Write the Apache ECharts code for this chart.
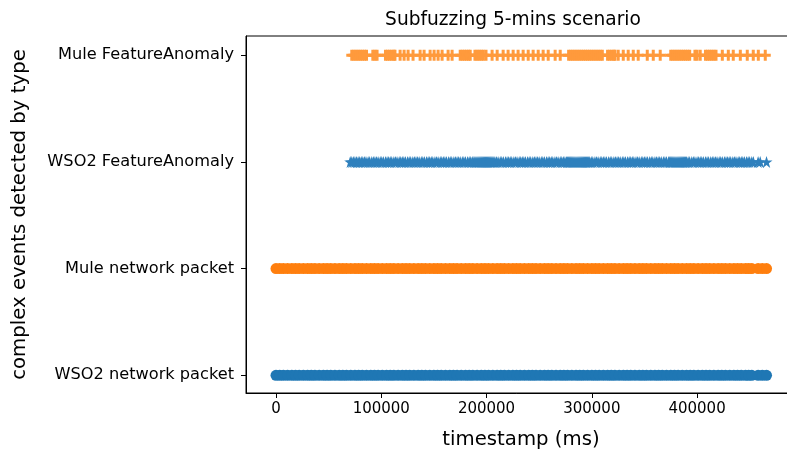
<!DOCTYPE html>
<html><head><meta charset="utf-8">
<script src="https://cdn.jsdelivr.net/npm/echarts@6/dist/echarts.min.js"></script>
<style>html,body{margin:0;padding:0;background:#fff}#c{width:787px;height:451px}</style>
</head><body><div id="c"></div>
<script>
const categories = ['WSO2 network packet', 'Mule network packet', 'WSO2 FeatureAnomaly', 'Mule FeatureAnomaly'];
const xTicks = [0, 100000, 200000, 300000, 400000];
const yTicks = [0, 1, 2, 3];

const wso2NetworkTimes = [0, 3500, 7000, 11000, 15000, 18500, 22000, 26000, 30000, 33500, 37000, 41000, 45000, 48500, 52000, 56000, 60000, 63500, 67000, 71000, 75000, 78500, 82000, 86000, 90000, 93500, 97000, 101000, 105000, 108500, 112000, 116000, 120000, 123500, 127000, 131000, 135000, 138500, 142000, 146000, 150000, 153500, 157000, 161000, 165000, 168500, 172000, 176000, 180000, 183500, 187000, 191000, 195000, 198500, 202000, 206000, 210000, 213500, 217000, 221000, 225000, 228500, 232000, 236000, 240000, 243500, 247000, 251000, 255000, 258500, 262000, 266000, 270000, 273500, 277000, 281000, 285000, 288500, 292000, 296000, 300000, 303500, 307000, 311000, 315000, 318500, 322000, 326000, 330000, 333500, 337000, 341000, 345000, 348500, 352000, 356000, 360000, 363500, 367000, 371000, 375000, 378500, 382000, 386000, 390000, 393500, 397000, 401000, 405000, 408500, 412000, 416000, 420000, 423500, 427000, 431000, 435000, 438500, 442000, 446000, 449000, 452000, 458000, 462000, 466000];
const muleNetworkTimes = [0, 3500, 7000, 11000, 15000, 18500, 22000, 26000, 30000, 33500, 37000, 41000, 45000, 48500, 52000, 56000, 60000, 63500, 67000, 71000, 75000, 78500, 82000, 86000, 90000, 93500, 97000, 101000, 105000, 108500, 112000, 116000, 120000, 123500, 127000, 131000, 135000, 138500, 142000, 146000, 150000, 153500, 157000, 161000, 165000, 168500, 172000, 176000, 180000, 183500, 187000, 191000, 195000, 198500, 202000, 206000, 210000, 213500, 217000, 221000, 225000, 228500, 232000, 236000, 240000, 243500, 247000, 251000, 255000, 258500, 262000, 266000, 270000, 273500, 277000, 281000, 285000, 288500, 292000, 296000, 300000, 303500, 307000, 311000, 315000, 318500, 322000, 326000, 330000, 333500, 337000, 341000, 345000, 348500, 352000, 356000, 360000, 363500, 367000, 371000, 375000, 378500, 382000, 386000, 390000, 393500, 397000, 401000, 405000, 408500, 412000, 416000, 420000, 423500, 427000, 431000, 435000, 438500, 442000, 446000, 449000, 452000, 458000, 462000, 466000];
const wso2AnomalyTimes = [70500, 72000, 73500, 75000, 76500, 78000, 79500, 81000, 82500, 84000, 85500, 87500, 89000, 91000, 92500, 94000, 95500, 97000, 99000, 100500, 102000, 104000, 105500, 107000, 108500, 110000, 112000, 113500, 115000, 117000, 118500, 120000, 121500, 123000, 125000, 126500, 128000, 130000, 131500, 133000, 134500, 136000, 138000, 139500, 141000, 143000, 144500, 146000, 147500, 149000, 151000, 152500, 154000, 156000, 157500, 159000, 160500, 162000, 164000, 165500, 167000, 169000, 170500, 172000, 173500, 175000, 177000, 178500, 180000, 182000, 183500, 185000, 186500, 188000, 189000, 190000, 191000, 192000, 193000, 194000, 195000, 196000, 197000, 198000, 199000, 200000, 201000, 202000, 203000, 204000, 205000, 206000, 207000, 208000, 209500, 211000, 213000, 214500, 216000, 218000, 219500, 221000, 222500, 224000, 226000, 227500, 229000, 231000, 232500, 234000, 235500, 237000, 239000, 240500, 242000, 244000, 245500, 247000, 248500, 250000, 252000, 253500, 255000, 257000, 258500, 260000, 261500, 263000, 265000, 266500, 268000, 270000, 271500, 273000, 274500, 276000, 277000, 278000, 279000, 280000, 281000, 282000, 283000, 284000, 285000, 286000, 287000, 288000, 289000, 290000, 291000, 292000, 293000, 294000, 295000, 296000, 297000, 298000, 299500, 301000, 303000, 304500, 306000, 308000, 309500, 311000, 312500, 314000, 316000, 317500, 319000, 321000, 322500, 324000, 325500, 327000, 329000, 330500, 332000, 334000, 335500, 337000, 338500, 340000, 342000, 343500, 345000, 347000, 348500, 350000, 351500, 353000, 355000, 356500, 358000, 360000, 361500, 363000, 364500, 366000, 368000, 369500, 371000, 373000, 374000, 375000, 376000, 377000, 378000, 379000, 380000, 381000, 382000, 383000, 384000, 385000, 386000, 387000, 388000, 389000, 390000, 391500, 393000, 395000, 396500, 398000, 400000, 401500, 403000, 404500, 406000, 408000, 409500, 411000, 413000, 414500, 416000, 417500, 419000, 421000, 422500, 424000, 426000, 427500, 429000, 430500, 432000, 434000, 435500, 437000, 439000, 440500, 442000, 443500, 445000, 447000, 448500, 450000, 452000, 453500, 458000, 460000, 466000];
const muleAnomalyTimes = [72000, 74000, 76000, 78000, 80000, 82000, 84000, 86000, 92000, 94000, 96000, 104000, 106000, 108000, 110000, 112000, 113000, 117900, 121700, 125500, 130200, 136900, 140700, 146400, 150200, 154000, 157800, 163500, 167300, 175000, 177000, 179000, 181000, 183000, 184500, 189000, 191000, 193000, 195000, 197000, 199500, 205300, 210100, 215800, 220500, 225300, 230000, 234800, 239600, 244300, 249100, 253800, 258600, 265200, 270000, 278000, 280000, 282000, 284000, 286000, 288000, 290000, 292000, 294000, 296000, 298000, 300000, 302000, 304000, 306000, 308000, 310000, 315000, 317000, 319000, 321000, 322000, 325100, 329900, 334600, 339400, 344100, 352700, 358400, 365000, 375000, 377000, 379000, 381000, 383000, 385000, 387000, 389000, 391000, 393000, 398000, 400000, 403000, 408000, 410000, 412000, 414000, 416000, 418000, 424000, 429700, 434400, 441100, 447700, 453400, 458200, 464800];

const BLUE = '#1f77b4', ORANGE = '#ff7f0e';
const PLUS = 'path://M4,0H7V4H11V7H7V11H4V7H0V4H4Z';
const STAR = 'path://M50,0L61.2,34.5L97.6,34.5L68.2,55.9L79.4,90.5L50,69.1L20.6,90.5L31.8,55.9L2.4,34.5L38.8,34.5Z';
const FONT = 'DejaVu Sans';

function pts(times, row) { return times.map(t => [t, row]); }

const chart = echarts.init(document.getElementById('c'), null, {renderer: 'canvas'});
chart.setOption({
  animation: false,
  backgroundColor: '#fff',
  title: {text: 'Subfuzzing 5-mins scenario', left: 508, top: 6, textAlign: 'center',
    textStyle: {fontFamily: FONT, fontSize: 18.6, fontWeight: 'normal', color: '#000'}},
  grid: {left: 246, top: 36, width: 550, height: 357, show: true, borderColor: '#000', borderWidth: 1,
    containLabel: false, outerBoundsMode: 'none'},
  xAxis: {type: 'value', min: -28500, max: 494000,
    axisLine: {show: true, onZero: false, lineStyle: {color: '#000'}},
    axisTick: {show: true, inside: false, length: 5, lineStyle: {color: '#000'}, customValues: xTicks},
    axisLabel: {customValues: xTicks, fontFamily: FONT, fontSize: 15, color: '#000', margin: 9,
      formatter: v => String(v)},
    splitLine: {show: false},
    name: 'timestamp (ms)', nameLocation: 'middle', nameGap: 37,
    nameTextStyle: {fontFamily: FONT, fontSize: 19.7, color: '#000'}},
  yAxis: {type: 'value', min: -0.166, max: 3.18,
    axisLine: {show: true, onZero: false, lineStyle: {color: '#000'}},
    axisTick: {show: true, inside: false, length: 5, lineStyle: {color: '#000'}, customValues: yTicks},
    axisLabel: {customValues: yTicks, fontFamily: FONT, fontSize: 16.2, color: '#000', margin: 12,
      formatter: v => categories[Math.round(v)] || ''},
    splitLine: {show: false},
    name: 'complex events detected by type', nameLocation: 'middle', nameGap: 216, nameRotate: 90,
    nameTextStyle: {fontFamily: FONT, fontSize: 19.7, color: '#000'}},
  series: [
    {type: 'scatter', data: pts(wso2NetworkTimes, 0), symbol: 'circle', symbolSize: 11, itemStyle: {color: BLUE, opacity: 1}},
    {type: 'scatter', data: pts(muleNetworkTimes, 1), symbol: 'circle', symbolSize: 11, itemStyle: {color: ORANGE, opacity: 1}},
    {type: 'scatter', data: pts(wso2AnomalyTimes, 2), symbol: STAR, symbolSize: 12, itemStyle: {color: '#2f80bd', opacity: 1}},
    {type: 'scatter', data: pts(muleAnomalyTimes, 3), symbol: PLUS, symbolSize: 11, itemStyle: {color: '#ff9a3c', opacity: 1}}
  ]
});
</script></body></html>
